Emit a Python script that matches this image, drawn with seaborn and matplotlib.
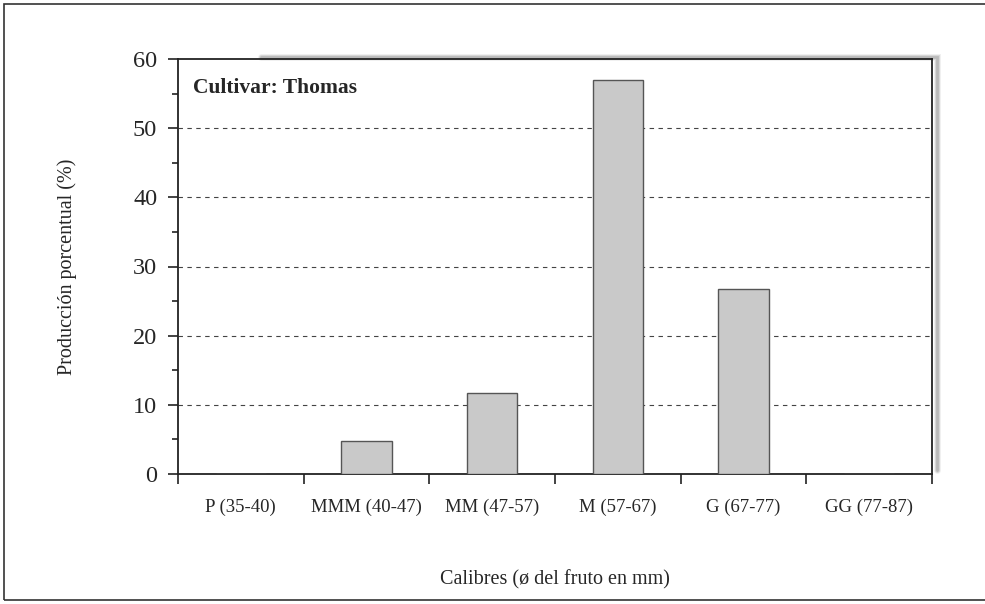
import pandas as pd
import matplotlib.pyplot as plt
import seaborn as sns
from matplotlib.patches import Rectangle
from matplotlib.ticker import MultipleLocator

# data
calibres = ['P (35-40)', 'MMM (40-47)', 'MM (47-57)', 'M (57-67)', 'G (67-77)', 'GG (77-87)']
produccion = [0.0, 4.7, 11.7, 57.0, 26.7, 0.0]

df = pd.DataFrame({'calibre': calibres, 'pct': produccion})

sns.set_style('white')
plt.rcParams['font.family'] = ['Liberation Serif', 'DejaVu Serif']

fig = plt.figure(figsize=(9.85, 6.04), dpi=100)
ax = fig.add_axes([178 / 985, 1 - 474 / 604, (932 - 178) / 985, (474 - 59) / 604])

sns.barplot(data=df, x='calibre', y='pct', color='#c9c9c9', edgecolor='#555555',
            linewidth=1.0, width=0.4, saturation=1, ax=ax, zorder=3)

ax.set_ylim(0, 60)
ax.set_xlim(-0.5, 5.5)
ax.yaxis.set_major_locator(MultipleLocator(10))
ax.yaxis.set_minor_locator(MultipleLocator(5))
ax.set_xticks([x - 0.5 for x in range(7)], minor=True)
ax.set_xticks(range(6))
ax.set_xticklabels(calibres, fontsize=13.5)
ax.tick_params(axis='x', which='major', length=0, pad=18)
ax.tick_params(axis='x', which='minor', length=7, width=1.2, direction='out', color='#222222')
ax.tick_params(axis='y', which='major', length=7, width=1.2, direction='out', labelsize=17.5,
               pad=8, color='#222222')
ax.tick_params(axis='y', which='minor', length=4, width=1.2, direction='out', color='#222222')
ax.tick_params(axis='both', which='both', bottom=True, left=True)

for y in range(10, 60, 10):
    ax.axhline(y, color='#444444', linestyle=(0, (4, 4)), linewidth=0.8, zorder=1)

for side in ['left', 'bottom', 'top', 'right']:
    ax.spines[side].set_color('#222222')
    ax.spines[side].set_linewidth(1.3)

# fuzzy shadow on top and right edges
for lw, a in [(5, 0.15), (3.5, 0.3), (2, 0.45)]:
    ax.plot([0.11, 1.006, 1.006], [1.006, 1.006, 0.01], transform=ax.transAxes,
            color='#9a9a9a', linewidth=lw, alpha=a, clip_on=False, zorder=0,
            solid_joinstyle='miter')

ax.set_xlabel('Calibres (ø del fruto en mm)', fontsize=14.5)
ax.xaxis.set_label_coords(0.5, -0.232)
ax.set_ylabel('Producción porcentual (%)', fontsize=14.5)
ax.yaxis.set_label_coords(-0.134, 0.5)
ax.text(0.02, 0.93, 'Cultivar: Thomas', transform=ax.transAxes, fontsize=15.5,
        fontweight='bold', va='center', ha='left')

# outer frame of the figure
fig.patches.append(Rectangle((4 / 985, 4 / 604), 1.0, 1 - 8 / 604, transform=fig.transFigure,
                             fill=False, edgecolor='#333333', linewidth=1.2))

fig.savefig('out.png', dpi=100)
